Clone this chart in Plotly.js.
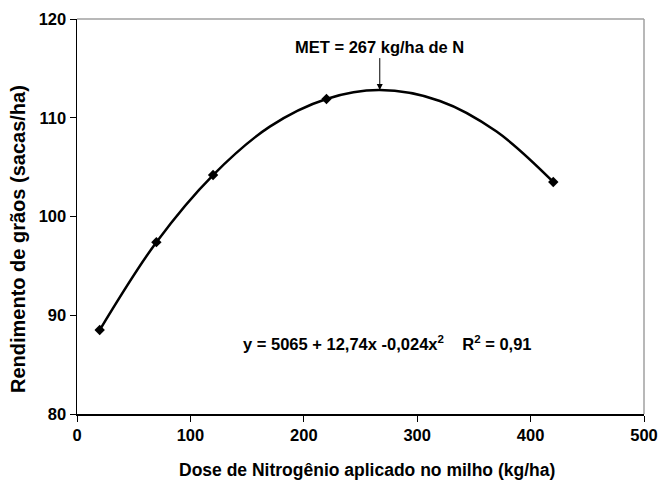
<!DOCTYPE html>
<html>
<head>
<meta charset="utf-8">
<script src="https://cdn.plot.ly/plotly-3.0.1.min.js"></script>
<style>html,body{margin:0;padding:0;background:#fff;}#chart{width:658px;height:482px;}</style>
</head>
<body>
<div id="chart"></div>
<script>
// Observed data points
const doses = [20, 70, 120, 220, 420];
const rendimento = [88.5, 97.4, 104.2, 111.9, 103.5];
// Fitted curve
const curveX = [20, 70, 120, 170, 220, 267, 320, 370, 420];
const curveY = [88.5, 97.4, 104.2, 109.1, 111.9, 112.8, 111.7, 108.6, 103.5];
const xTicks = [0, 100, 200, 300, 400, 500];
const yTicks = [80, 90, 100, 110, 120];
const metX = 267, metY = 112.8;

const F = '"Liberation Sans", Arial, sans-serif';
const traces = [
  {x: curveX, y: curveY, mode: 'lines', line: {color: '#000', width: 2.5, shape: 'spline'}, hoverinfo: 'skip', showlegend: false},
  {x: doses, y: rendimento, mode: 'markers', marker: {symbol: 'diamond', color: '#000', size: 8}, showlegend: false}
];
const layout = {
  width: 658, height: 482,
  margin: {l: 77, r: 14, t: 19, b: 68},
  paper_bgcolor: '#fff', plot_bgcolor: '#fff',
  font: {family: F, color: '#000'},
  xaxis: {
    range: [0, 500], tickvals: xTicks, ticktext: xTicks.map(String),
    showgrid: false, zeroline: false, showline: true, linecolor: '#000', linewidth: 1.5,
    ticks: 'outside', ticklen: 6, tickcolor: '#000', tickwidth: 1,
    tickfont: {size: 16.5, family: F, weight: 700}
  },
  yaxis: {
    range: [80, 120], tickvals: yTicks, ticktext: yTicks.map(String),
    showgrid: false, zeroline: false, showline: true, linecolor: '#000', linewidth: 1.5,
    ticks: 'outside', ticklen: 6, tickcolor: '#000', tickwidth: 1,
    tickfont: {size: 16.5, family: F, weight: 700}
  },
  shapes: [
    {type: 'line', xref: 'paper', yref: 'paper', x0: 0, x1: 1, y0: 1, y1: 1, line: {color: '#a0a0a0', width: 1.5}},
    {type: 'line', xref: 'paper', yref: 'paper', x0: 1, x1: 1, y0: 0, y1: 1, line: {color: '#a0a0a0', width: 1.5}}
  ],
  annotations: [
    {x: metX, y: metY, xref: 'x', yref: 'y', text: '<b>MET = 267 kg/ha de N</b>', showarrow: true,
     arrowhead: 2, arrowsize: 1.2, arrowwidth: 1, arrowcolor: '#000', ax: 0, ay: -32,
     font: {size: 16.5, family: F, color: '#000'}, yanchor: 'bottom', standoff: 0},
    {x: 0.548, y: 0.15, xref: 'paper', yref: 'paper', showarrow: false,
     text: '<b>y = 5065 + 12,74x -0,024x<sup>2</sup>    R<sup>2</sup> = 0,91</b>',
     font: {size: 16.5, family: F, color: '#000'}},
    {x: 0.5106, y: -0.142, xref: 'paper', yref: 'paper', showarrow: false,
     xanchor: 'center', yanchor: 'middle',
     text: '<b>Dose de Nitrogênio aplicado no milho (kg/ha)</b>',
     font: {size: 17.5, family: F, color: '#000'}},
    {x: -0.104, y: 0.443, xref: 'paper', yref: 'paper', showarrow: false, textangle: -90,
     xanchor: 'center', yanchor: 'middle',
     text: '<b>Rendimento de grãos (sacas/ha)</b>',
     font: {size: 20, family: F, color: '#000'}}
  ]
};
Plotly.newPlot('chart', traces, layout, {displayModeBar: false, staticPlot: true});
</script>
</body>
</html>
